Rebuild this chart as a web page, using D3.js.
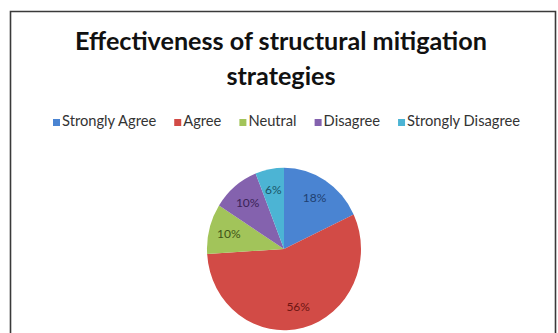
<!DOCTYPE html>
<html><head><meta charset="utf-8">
<script src="https://cdn.jsdelivr.net/npm/d3@7"></script>
<style>body{margin:0;background:#fff;} svg{display:block;}</style>
</head><body>
<script>
const categories = ["Strongly Agree", "Agree", "Neutral", "Disagree", "Strongly Disagree"];
const values = [18, 56, 10, 10, 6];
const labels = ["18%", "56%", "10%", "10%", "6%"];
const colors = ["#4A84D2", "#D24B46", "#A2C45A", "#8462AE", "#4CB4D4"];
const labelColors = ["#1F3F70", "#6E1512", "#3F5418", "#3A2358", "#1A5468"];
const title = ["Effectiveness of structural mitigation", "strategies"];

const W = 558, H = 333;
const svg = d3.select("body").append("svg").attr("width", W).attr("height", H);
svg.append("rect").attr("width", W).attr("height", H).attr("fill", "#fff");
// frame
svg.append("path").attr("d", "M10.5,340 V11.5 H555.5 V340")
  .attr("fill", "none").attr("stroke", "#3a3a3a").attr("stroke-width", 1.6);

const font = "Lato, 'Open Sans', sans-serif";
// title
const t1 = svg.append("text").attr("x", 281).attr("y", 50).attr("text-anchor", "middle")
  .attr("font-family", font).attr("font-weight", "bold").attr("font-size", 24)
  .attr("fill", "#111").text(title[0]);
const w1 = t1.node().getComputedTextLength();
const fs = 24 * 412 / w1;
t1.attr("font-size", fs);
svg.append("text").attr("x", 281).attr("y", 85).attr("text-anchor", "middle")
  .attr("font-family", font).attr("font-weight", "bold").attr("font-size", fs)
  .attr("fill", "#111").text(title[1]);

// legend
const lg = svg.append("g");
const items = lg.selectAll("g").data(categories).join("g");
items.append("rect").attr("width", 7).attr("height", 7).attr("y", -7)
  .attr("fill", (d, i) => colors[i]);
const lt = items.append("text").attr("x", 9).attr("y", 0)
  .attr("font-family", font).attr("font-size", 12).attr("fill", "#333").text(d => d);
const raw = lt.nodes().map(n => n.getComputedTextLength());
const lfs = 12 * (395 - 5 * 9) / d3.sum(raw);
lt.attr("font-size", lfs);
const tw = lt.nodes().map(n => n.getComputedTextLength() + 9);
const gap = (467 - d3.sum(tw)) / (categories.length - 1);
let xx = 53;
items.attr("transform", (d, i) => { const x = xx; xx += tw[i] + gap; return `translate(${x},126)`; });

// pie
const cx = 284, cy = 249, r = 77, sy = 1.055;
const pie = d3.pie().sort(null).value(d => d)(values);
const arc = d3.arc().innerRadius(0).outerRadius(r);
const pg = svg.append("g").attr("transform", `translate(${cx},${cy}) scale(1,${sy})`);
pg.selectAll("path").data(pie).join("path")
  .attr("d", arc).attr("fill", (d, i) => colors[i]);
const la = d3.arc().innerRadius(r * 0.74).outerRadius(r * 0.74);
svg.append("g").selectAll("text").data(pie).join("text")
  .attr("x", d => cx + la.centroid(d)[0])
  .attr("y", d => cy + la.centroid(d)[1] * sy + 4)
  .attr("text-anchor", "middle").attr("font-family", font).attr("font-size", 12)
  .attr("fill", (d, i) => labelColors[i]).text((d, i) => labels[i]);
</script>
</body></html>
